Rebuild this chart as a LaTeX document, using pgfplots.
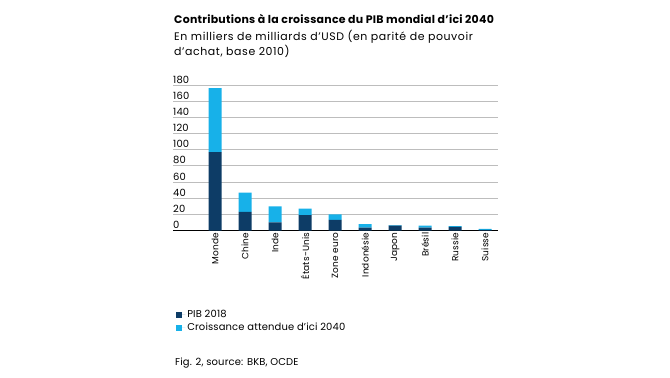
\documentclass[border=0pt]{standalone}
\usepackage{fontspec}
\setmainfont{Poppins}
\newfontfamily\ttl[LetterSpace=2.3]{Poppins}
\newfontfamily\sub[LetterSpace=5.3]{Poppins}
\newfontfamily\lgd[LetterSpace=1.5]{Poppins}
\usepackage{pgfplots}
\pgfplotsset{compat=1.18}
\definecolor{darkb}{HTML}{0D3C66}
\definecolor{lightb}{HTML}{17B1E9}
\definecolor{gridc}{HTML}{BDBDBD}
\begin{document}
\begin{tikzpicture}[x=1bp,y=1bp]
\path (0,0) rectangle (670,377);
\node[anchor=base west, inner sep=0, font=\ttl\bfseries\fontsize{11}{12}\selectfont] at (174,354) {Contributions à la croissance du PIB mondial d’ici 2040};
\node[anchor=base west, inner sep=0, font=\sub\fontsize{11}{12}\selectfont] at (174,337) {En milliers de milliards d’USD (en parité de pouvoir};
\node[anchor=base west, inner sep=0, font=\sub\fontsize{11}{12}\selectfont] at (174,322) {d’achat, base 2010)};
\node[anchor=base west, inner sep=0, font=\lgd\fontsize{10}{12}\selectfont] at (175,12) {Fig. 2, source: BKB, OCDE};
\begin{axis}[
  at={(173bp,146.5bp)}, anchor=south west,
  scale only axis, width=325bp, height=145.5bp,
  ybar stacked, bar width=13bp,
  xmin=-1.4, xmax=9.43, ymin=0, ymax=180,
  xtick={0,...,9},
  xticklabels={Monde,Chine,Inde,États-Unis,Zone euro,Indonésie,Japon,Brésil,Russie,Suisse},
  x tick label style={rotate=90, anchor=east, inner sep=2bp, font=\lgd\fontsize{9}{10}\selectfont},
  ytick={0,20,...,180},
  yticklabel style={anchor=south west, inner xsep=0bp, inner ysep=1.5bp, font=\lgd\fontsize{10}{10}\selectfont},
  /pgf/number format/assume math mode=true,
  axis line style={draw=none},
  major tick length=0pt,
  ymajorgrids, grid style={gridc, line width=0.8bp},
  extra y ticks={0}, extra y tick labels={},
  extra y tick style={grid style={black, line width=1.2bp}},
  legend style={at={(axis description cs:0.008,-0.535)}, anchor=north west, draw=none, fill=none,
    font=\lgd\fontsize{10}{12}\selectfont, row sep=0bp, inner sep=0pt},
  legend cell align=left,
  legend image code/.code={\fill[#1] (0bp,-3.2bp) rectangle (6.5bp,3.3bp); \path (0bp,0bp) -- (9.5bp,0bp);},
]
\addplot[fill=darkb, draw=none] coordinates {(0,97) (1,23) (2,10) (3,19) (4,13) (5,3.5) (6,6) (7,3.5) (8,4.5) (9,0.7)};
\addplot[fill=lightb, draw=none] coordinates {(0,79) (1,24) (2,20) (3,8) (4,7) (5,4.5) (6,0.8) (7,2.5) (8,1) (9,1.2)};
\legend{PIB 2018, Croissance attendue d’ici 2040}
\end{axis}
\end{tikzpicture}
\end{document}
